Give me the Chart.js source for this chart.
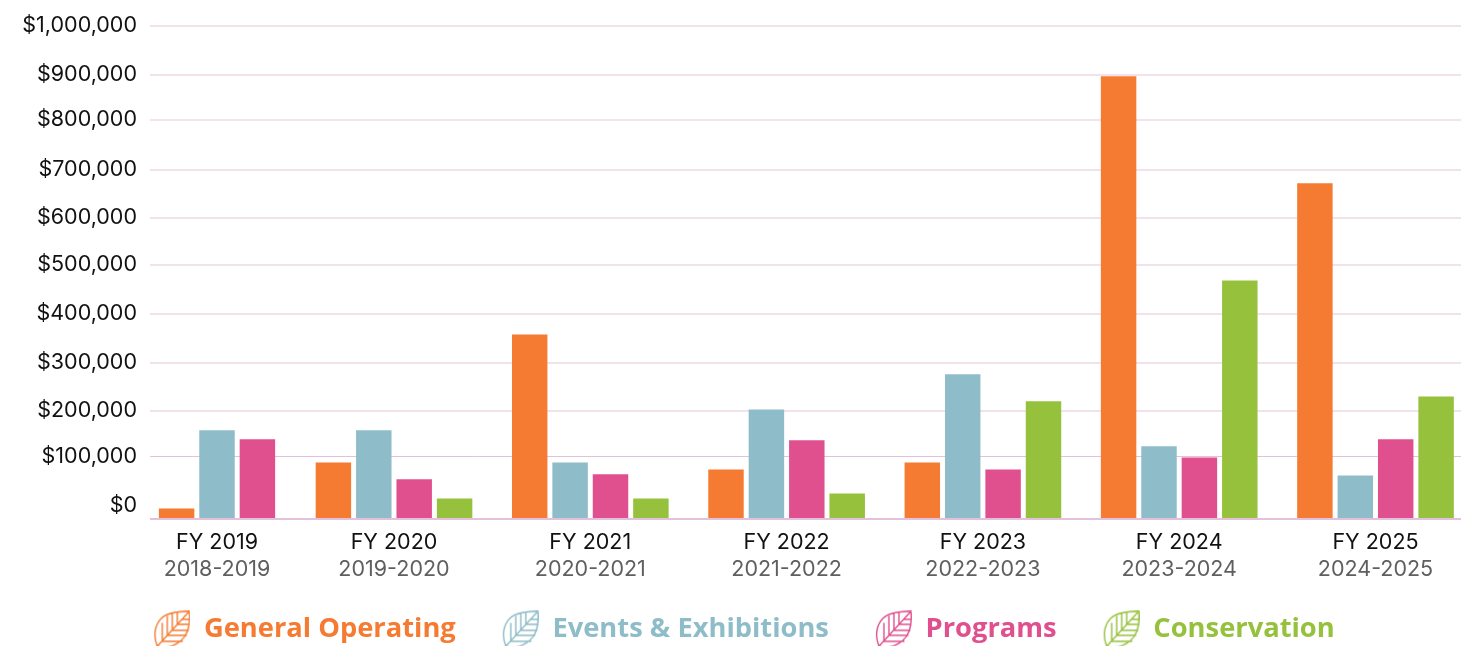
<!DOCTYPE html>
<html>
<head>
<meta charset="utf-8">
<style>html,body{margin:0;padding:0;background:#fff}canvas{display:block}</style>
<script src="https://cdn.jsdelivr.net/npm/chart.js@4"></script>
</head>
<body>
<canvas id="c" width="1480" height="646"></canvas>
<script>
const fiscalYears = ['FY 2019','FY 2020','FY 2021','FY 2022','FY 2023','FY 2024','FY 2025'];
const yearSpans = ['2018-2019','2019-2020','2020-2021','2021-2022','2022-2023','2023-2024','2024-2025'];
const generalOperating = [16000, 90000, 357000, 79000, 90000, 896000, 671000];
const eventsExhibitions = [157000, 157000, 90000, 202000, 275000, 122000, 69000];
const programs = [137000, 63000, 71000, 135000, 79000, 98000, 137000];
const conservation = [null, 32000, 32000, 40000, 219000, 467000, 229000];
const seriesNames = ['General Operating','Events & Exhibitions','Programs','Conservation'];
const seriesColors = ['#F57B33','#8EBCC8','#E0508E','#96C13D'];

// The reference spaces its first group closer than the rest.
class PlacedCategoryScale extends Chart.CategoryScale {
  static id = 'placedCategory';
  static defaults = Chart.CategoryScale.defaults;
  getPixelForValue(value) {
    const i = typeof value === 'number' ? value : this.parse(value);
    if (i === null || i === undefined) return NaN;
    return this.left + (i === 0 ? 67 : 244 + (i - 1) * 196.3);
  }
}
// The reference's axis is hand-spaced: height of each $100,000 tick above the axis line.
const tickHeights = [0, 62, 108, 156, 205, 254, 301, 349, 399, 444, 493];
class SteppedLinearScale extends Chart.LinearScale {
  static id = 'steppedLinear';
  static defaults = Chart.LinearScale.defaults;
  getPixelForValue(v) {
    const f = Math.max(0, Math.min(10, v / 100000));
    const i = Math.min(9, Math.floor(f));
    return this.bottom - (tickHeights[i] + (f - i) * (tickHeights[i + 1] - tickHeights[i]));
  }
}
Chart.register(PlacedCategoryScale, SteppedLinearScale);

function leafIcon(color) {
  const lead = 28;
  const c = document.createElement('canvas');
  c.width = 36 + lead; c.height = 38;
  const g = c.getContext('2d');
  g.translate(lead, 0);
  g.strokeStyle = color; g.lineWidth = 1.4; g.lineJoin = 'round'; g.lineCap = 'round';
  g.beginPath();
  g.moveTo(3, 36);
  g.bezierCurveTo(-1, 26, 0, 15, 7, 8);
  g.bezierCurveTo(13, 2, 24, 1, 35, 1);
  g.bezierCurveTo(36, 12, 35, 23, 27, 30);
  g.bezierCurveTo(20, 36, 11, 38, 3, 36);
  g.closePath();
  g.moveTo(2, 37); g.lineTo(35, 1);
  [[8,31,28],[13,25,32],[18,20,34],[23,14,35],[28,9,35]].forEach(([x,y,e]) => { g.moveTo(x,y); g.lineTo(e,y); });
  [[8,31,13],[13,25,6],[18,20,3],[23,14,2]].forEach(([x,y,e]) => { g.moveTo(x,y); g.lineTo(x,e); });
  g.stroke();
  return c;
}

const tickFont = {family:'Inter, "Liberation Sans", sans-serif', size:21.5, weight:'400'};
const seriesValues = [generalOperating, eventsExhibitions, programs, conservation];

new Chart(document.getElementById('c'), {
  type: 'bar',
  data: {
    labels: fiscalYears,
    datasets: seriesNames.map((n, i) => ({
      label: n, data: seriesValues[i], backgroundColor: seriesColors[i], borderWidth: 0,
      barThickness: 40.4, maxBarThickness: 34.8, skipNull: true
    }))
  },
  options: {
    responsive: false, animation: false,
    layout: {padding: {left: 0, right: 19, top: 25, bottom: -7}},
    scales: {
      x: {
        type: 'placedCategory', position: 'bottom',
        grid: {display: false, drawTicks: false}, border: {display: false},
        ticks: {color: '#111', font: tickFont, maxRotation: 0, autoSkip: false, padding: 11},
        afterFit: s => { s.height = 38; }
      },
      x2: {
        type: 'placedCategory', axis: 'x', position: 'bottom', labels: yearSpans,
        grid: {display: false, drawTicks: false}, border: {display: false},
        ticks: {color: '#5f5f5f', font: tickFont, maxRotation: 0, autoSkip: false, padding: 0},
        afterFit: s => { s.height = 40; }
      },
      y: {
        type: 'steppedLinear', min: 0, max: 1000000,
        border: {display: false},
        grid: {
          color: ctx => ctx.tick && ctx.tick.value <= 100000 ? '#E3C0DC' : '#F1E2EC',
          lineWidth: ctx => ctx.tick && ctx.tick.value === 100000 ? 1 : 2,
          drawTicks: false
        },
        ticks: {
          stepSize: 100000, color: '#111', padding: 13, autoSkip: false,
          font: tickFont,
          callback: v => v === 0 ? ['$0', ''] : '$' + v.toLocaleString('en-US')
        },
        afterFit: s => { s.width = 150; }
      }
    },
    plugins: {
      tooltip: {enabled: false},
      legend: {
        position: 'bottom', align: 'center',
        labels: {
          usePointStyle: true, pointStyleWidth: 64, padding: 19,
          font: {family: '"Open Sans", sans-serif', size: 27.3, weight: '700'},
          generateLabels: chart => seriesNames.map((n, i) => ({
            text: n, fillStyle: seriesColors[i], fontColor: seriesColors[i], strokeStyle: seriesColors[i],
            lineWidth: 0, hidden: false, datasetIndex: i, pointStyle: leafIcon(seriesColors[i])
          }))
        }
      }
    }
  }
});
</script>
</body>
</html>
